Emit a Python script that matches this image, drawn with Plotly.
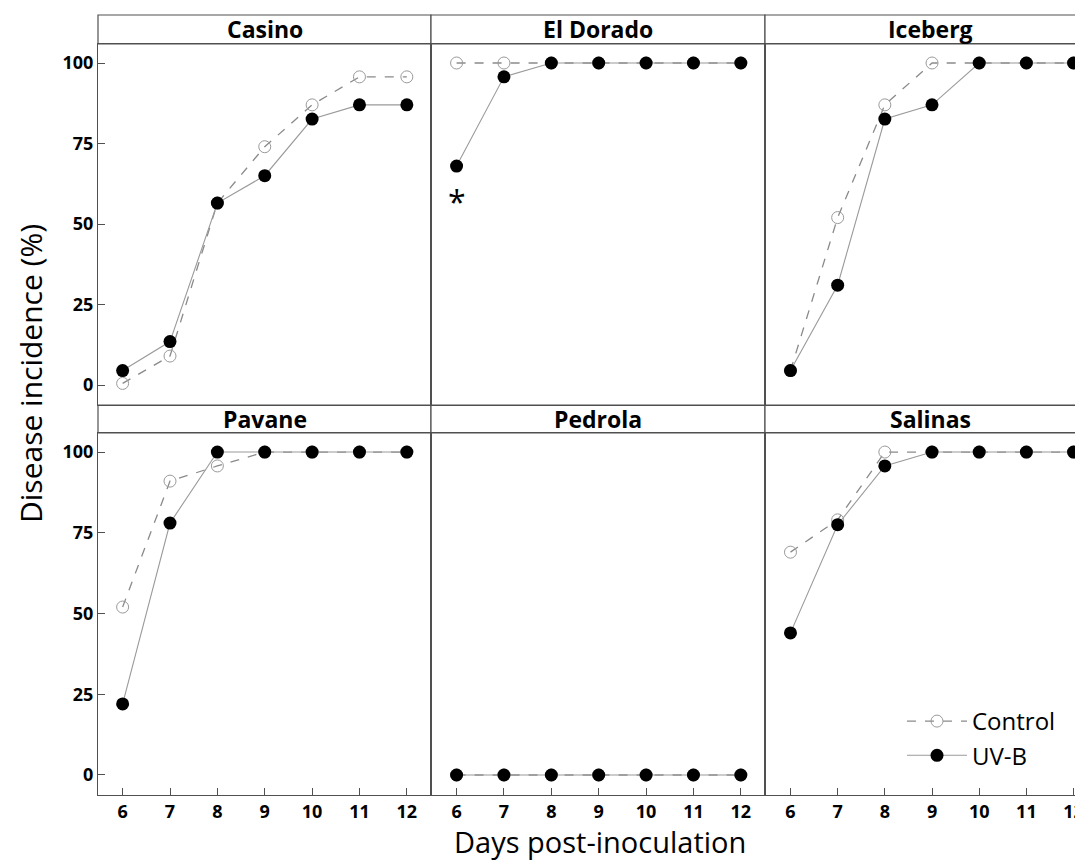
import plotly.graph_objects as go

days = [6, 7, 8, 9, 10, 11, 12]
cultivars = ["Casino", "El Dorado", "Iceberg", "Pavane", "Pedrola", "Salinas"]
control = {
    "Casino":    [0.5, 9, 56.5, 74, 87, 95.7, 95.7],
    "El Dorado": [100, 100, 100, 100, 100, 100, 100],
    "Iceberg":   [4.5, 52, 87, 100, 100, 100, 100],
    "Pavane":    [52, 91, 95.7, 100, 100, 100, 100],
    "Pedrola":   [0, 0, 0, 0, 0, 0, 0],
    "Salinas":   [69, 79, 100, 100, 100, 100, 100],
}
uvb = {
    "Casino":    [4.5, 13.5, 56.5, 65, 82.6, 87, 87],
    "El Dorado": [68, 95.7, 100, 100, 100, 100, 100],
    "Iceberg":   [4.5, 31, 82.6, 87, 100, 100, 100],
    "Pavane":    [22, 78, 100, 100, 100, 100, 100],
    "Pedrola":   [0, 0, 0, 0, 0, 0, 0],
    "Salinas":   [44, 77.5, 95.7, 100, 100, 100, 100],
}
y_ticks = [0, 25, 50, 75, 100]

OFF = 8  # page body margin
W, H = 1083 - OFF, 861 - OFF
ml, mr, mt, mb = 98 - OFF, 0, 15 - OFF, 861 - 795
pw, ph = W - ml - mr, H - mt - mb

def fx(px):
    return (px - OFF - ml) / pw

def fy(py):
    return (H - mb - (py - OFF)) / ph

col_px = [(98, 431), (431, 765), (765, 1083)]
row_px = [(44, 405), (433, 795)]
strip_px = [(15, 44), (405, 433)]
x_ranges = [[5.48, 12.51], [5.46, 12.51], [5.46, 12.2]]

fig = go.Figure()
frame = "#505050"
tickfont = dict(family="Open Sans", size=18, color="black", weight="bold")

for i, name in enumerate(cultivars):
    r, c = divmod(i, 3)
    n = i + 1
    xa = "x" if n == 1 else f"x{n}"
    ya = "y" if n == 1 else f"y{n}"
    fig.add_trace(go.Scatter(
        x=days, y=control[name], xaxis=xa, yaxis=ya, mode="lines+markers",
        name="Control", showlegend=(i == 0), legendgroup="c",
        line=dict(color="#8a8a8a", width=1.3, dash="dash"),
        marker=dict(symbol="circle-open", size=12, color="#9a9a9a", line=dict(width=1)),
    ))
    fig.add_trace(go.Scatter(
        x=days, y=uvb[name], xaxis=xa, yaxis=ya, mode="lines+markers",
        name="UV-B", showlegend=(i == 0), legendgroup="u",
        line=dict(color="#9a9a9a", width=1.1),
        marker=dict(symbol="circle", size=13, color="black"),
    ))
    xkey = "xaxis" if n == 1 else f"xaxis{n}"
    ykey = "yaxis" if n == 1 else f"yaxis{n}"
    fig.layout[xkey] = dict(
        domain=[fx(col_px[c][0]), min(1, fx(col_px[c][1]))], anchor=ya,
        range=x_ranges[c], tickvals=days, showgrid=False, zeroline=False,
        showline=True, mirror=True, linecolor=frame, linewidth=1.2,
        ticks="inside" if r == 1 else "", ticklen=7, tickcolor=frame,
        showticklabels=(r == 1), tickfont=tickfont, ticklabeloverflow="allow",
    )
    fig.layout[ykey] = dict(
        domain=[fy(row_px[r][1]), fy(row_px[r][0])], anchor=xa,
        range=[-6.2, 105.9], tickvals=y_ticks, showgrid=False, zeroline=False,
        showline=True, mirror=True, linecolor=frame, linewidth=1.2,
        ticks="inside" if c == 0 else "", ticklen=7, tickcolor=frame,
        showticklabels=(c == 0), tickfont=tickfont,
    )
    # strip
    fig.add_shape(type="rect", xref="paper", yref="paper",
                  x0=fx(col_px[c][0]), x1=min(1, fx(col_px[c][1])),
                  y0=fy(strip_px[r][1]), y1=fy(strip_px[r][0]),
                  line=dict(color=frame, width=1.2), fillcolor="white", layer="below")
    cx = (col_px[c][0] + col_px[c][1]) / 2 if c < 2 else 930
    fig.add_annotation(xref="paper", yref="paper",
                       x=fx(cx), y=(fy(strip_px[r][0]) + fy(strip_px[r][1])) / 2,
                       text=f"<b>{name}</b>", showarrow=False,
                       xanchor="center", yanchor="middle",
                       font=dict(family="Open Sans", size=23, color="black"))

fig.add_annotation(xref="x2", yref="y2", x=6, y=57, text="*", showarrow=False,
                   font=dict(family="Open Sans", size=32, color="black"),
                   xanchor="center", yanchor="middle")

fig.add_annotation(xref="paper", yref="paper", x=fx(30), y=fy(374), text="Disease incidence (%)",
                   textangle=-90, showarrow=False, xanchor="center", yanchor="middle",
                   font=dict(family="Open Sans", size=30, color="black"))
fig.add_annotation(xref="paper", yref="paper", x=fx(600), y=fy(841), text="Days post-inoculation",
                   showarrow=False, xanchor="center", yanchor="middle",
                   font=dict(family="Open Sans", size=29, color="black"))

fig.update_layout(
    width=W, height=H, margin=dict(l=ml, r=mr, t=mt, b=mb),
    plot_bgcolor="white", paper_bgcolor="white",
    legend=dict(x=fx(902), y=fy(699), xanchor="left", yanchor="top",
                bgcolor="rgba(0,0,0,0)", font=dict(family="Open Sans", size=24, color="black"),
                tracegroupgap=0, itemwidth=60),
)

fig.write_html("out.html")
